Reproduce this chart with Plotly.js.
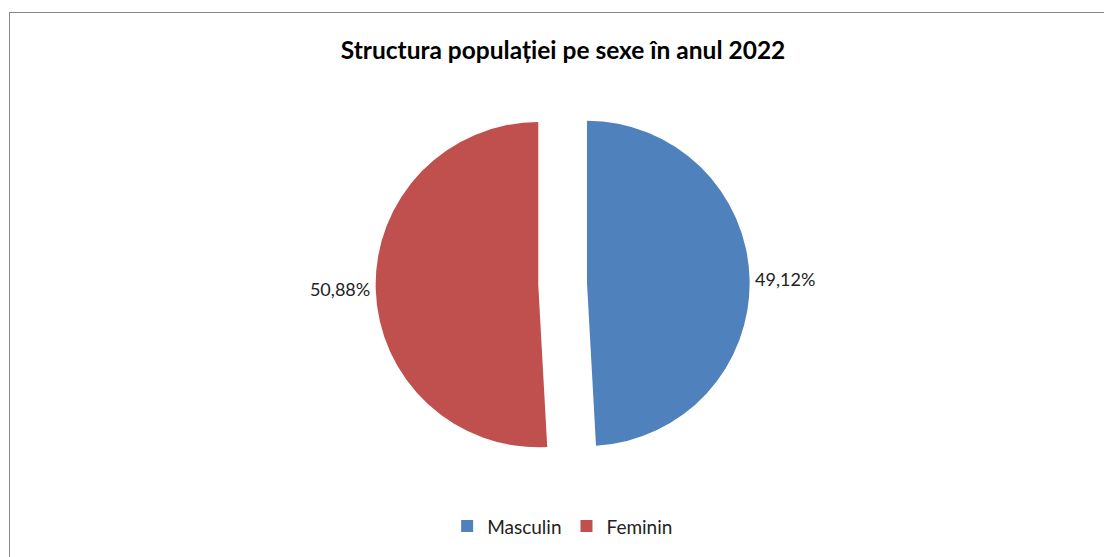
<!DOCTYPE html>
<html>
<head>
<meta charset="utf-8">
<script src="https://cdn.plot.ly/plotly-3.0.1.min.js"></script>
<style>
  html, body { margin: 0; padding: 0; background: #fff; }
  #frame { position: absolute; left: 9px; top: 12px; width: 1110px; height: 560px; border: 1.5px solid #8a8a8a; box-sizing: border-box; }
  #chart { position: absolute; left: 0; top: 0; width: 1104px; height: 557px; }
</style>
</head>
<body>
<div id="frame"></div>
<div id="chart"></div>
<script>
const categories = ["Masculin", "Feminin"];
const shares = [49.12, 50.88];
const colors = ["#4F81BD", "#C0504D"];
const chartTitle = "Structura populației pe sexe în anul 2022";

const trace = {
  type: "pie",
  labels: categories,
  values: shares,
  sort: false,
  direction: "clockwise",
  rotation: 0,
  pull: [0.15, 0.15],
  marker: { colors: colors, line: { color: "rgba(0,0,0,0)", width: 0 } },
  texttemplate: "%{value:.2f}%",
  textposition: "outside",
  outsidetextfont: { family: "Lato, 'Open Sans', sans-serif", size: 18, color: "#222" },
  hoverinfo: "label+percent",
  domain: { x: [0.2, 0.82], y: [0.08, 0.96] }
};

const layout = {
  width: 1104,
  height: 557,
  separators: ", ",
  paper_bgcolor: "rgba(0,0,0,0)",
  plot_bgcolor: "rgba(0,0,0,0)",
  margin: { l: 20, r: 20, t: 80, b: 50 },
  title: {
    text: "<b>" + chartTitle + "</b>",
    font: { family: "Lato, 'Open Sans', sans-serif", size: 24.5, color: "#000" },
    x: 0.51, xanchor: "center", y: 0.91, yanchor: "middle"
  },
  showlegend: true,
  legend: {
    orientation: "h",
    x: 0.51, xanchor: "center",
    y: -0.05, yanchor: "middle",
    font: { family: "Lato, 'Open Sans', sans-serif", size: 19, color: "#222" },
    itemwidth: 30
  },
  font: { family: "Lato, 'Open Sans', sans-serif" }
};

Plotly.newPlot("chart", [trace], layout, { displayModeBar: false, staticPlot: true });
</script>
</body>
</html>
